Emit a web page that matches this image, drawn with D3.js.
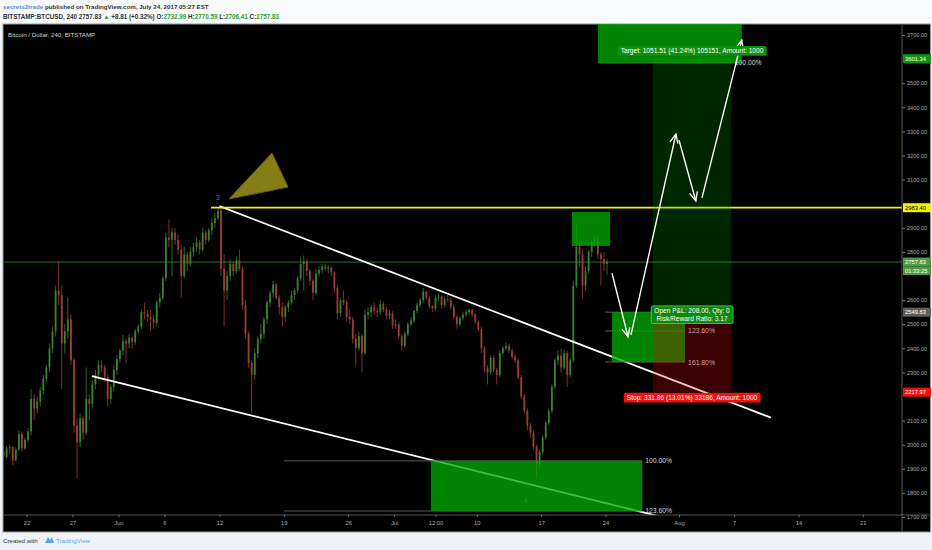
<!DOCTYPE html>
<html>
<head>
<meta charset="utf-8">
<script src="https://cdn.jsdelivr.net/npm/d3@7"></script>
<style>
  body { margin: 0; background: #f0f3f7; }
  svg { display: block; font-family: "Liberation Sans", Arial, sans-serif; }
</style>
</head>
<body>
<svg id="chart" width="932" height="550"></svg>
<script>
// 8h bars, first one opens May 19 2017 00:00, open/high/low/close
const firstBar = "2017-05-19 00:00";
const barHours = 8;
const candles = [
  [1960,1985,1945,1970],[1970,1990,1940,1950],[1950,1995,1945,1985],
  [1985,2000,1960,1990],[1990,1995,1915,1935],[1935,1990,1930,1980],
  [1980,2060,1975,2045],[2045,2055,1970,1985],[1985,2030,1980,2020],
  [2020,2070,2010,2055],[2055,2230,2040,2190],[2190,2210,2100,2150],
  [2150,2200,2130,2180],[2180,2240,2160,2225],[2225,2290,2210,2275],
  [2275,2330,2260,2320],[2320,2420,2300,2400],[2400,2490,2380,2470],
  [2470,2660,2450,2640],[2640,2760,2580,2620],[2620,2660,2230,2420],
  [2420,2500,2380,2470],[2470,2610,2440,2520],[2520,2540,2330,2350],
  [2350,2360,2050,2080],[2080,2110,1860,2010],[2010,2130,1990,2110],
  [2110,2120,2020,2050],[2050,2320,2040,2190],[2190,2210,2100,2170],
  [2170,2270,2150,2250],[2250,2310,2230,2290],[2290,2350,2270,2330],
  [2330,2350,2300,2320],[2320,2330,2260,2280],[2280,2290,2160,2190],
  [2190,2250,2170,2240],[2240,2330,2220,2310],[2310,2370,2290,2355],
  [2355,2400,2340,2390],[2390,2455,2370,2430],[2430,2440,2340,2420],
  [2420,2460,2400,2445],[2445,2450,2400,2425],[2425,2480,2415,2470],
  [2470,2500,2460,2490],[2490,2560,2480,2550],[2550,2590,2520,2545],
  [2545,2560,2510,2530],[2530,2560,2470,2520],[2520,2540,2480,2505],
  [2505,2600,2490,2590],[2590,2630,2570,2610],[2610,2700,2600,2690],
  [2690,2880,2680,2860],[2860,2935,2820,2850],[2850,2900,2700,2880],
  [2880,2900,2830,2850],[2850,2870,2790,2810],[2810,2830,2610,2700],
  [2700,2820,2690,2790],[2790,2800,2720,2750],[2750,2820,2740,2800],
  [2800,2840,2780,2820],[2820,2860,2800,2840],[2840,2850,2790,2810],
  [2810,2900,2800,2880],[2880,2890,2830,2850],[2850,2900,2840,2890],
  [2890,2940,2870,2920],[2920,2960,2900,2940],[2940,2985,2930,2970],
  [2970,2983,2700,2730],[2730,2790,2490,2640],[2640,2720,2600,2700],
  [2700,2770,2680,2750],[2750,2760,2700,2720],[2720,2780,2710,2765],
  [2765,2810,2720,2730],[2730,2740,2560,2580],[2580,2600,2440,2460],
  [2460,2470,2320,2340],[2340,2350,2130,2290],[2290,2400,2270,2380],
  [2380,2450,2360,2440],[2440,2500,2420,2460],[2460,2530,2440,2520],
  [2520,2600,2500,2590],[2590,2640,2570,2630],[2630,2680,2610,2665],
  [2665,2670,2600,2610],[2610,2620,2540,2570],[2570,2590,2490,2530],
  [2530,2580,2510,2570],[2570,2600,2550,2590],[2590,2640,2580,2620],
  [2620,2650,2600,2640],[2640,2700,2630,2690],[2690,2780,2680,2750],
  [2750,2785,2640,2760],[2760,2770,2700,2720],[2720,2730,2660,2680],
  [2680,2690,2600,2630],[2630,2730,2620,2710],[2710,2740,2700,2725],
  [2725,2750,2710,2740],[2740,2750,2720,2730],[2730,2745,2710,2735],
  [2735,2745,2700,2715],[2715,2720,2630,2650],[2650,2660,2520,2545],
  [2545,2610,2530,2600],[2600,2640,2580,2590],[2590,2600,2510,2530],
  [2530,2560,2500,2520],[2520,2530,2420,2440],[2440,2460,2330,2400],
  [2400,2470,2390,2450],[2450,2460,2300,2380],[2380,2560,2370,2540],
  [2540,2570,2520,2550],[2550,2580,2530,2570],[2570,2590,2540,2555],
  [2555,2570,2530,2550],[2550,2600,2540,2585],[2585,2595,2550,2560],
  [2560,2570,2520,2535],[2535,2560,2520,2545],[2545,2555,2480,2495],
  [2495,2520,2480,2500],[2500,2510,2440,2450],[2450,2460,2390,2410],
  [2410,2470,2400,2460],[2460,2510,2450,2500],[2500,2530,2490,2515],
  [2515,2560,2505,2555],[2555,2590,2545,2580],[2580,2610,2570,2600],
  [2600,2650,2590,2635],[2635,2640,2600,2610],[2610,2620,2565,2575],
  [2575,2580,2550,2565],[2565,2620,2555,2610],[2610,2625,2595,2615],
  [2615,2620,2565,2580],[2580,2615,2570,2605],[2605,2620,2590,2600],
  [2600,2610,2560,2570],[2570,2580,2520,2530],[2530,2540,2480,2500],
  [2500,2535,2490,2525],[2525,2550,2515,2540],[2540,2560,2530,2550],
  [2550,2565,2540,2560],[2560,2565,2530,2540],[2540,2545,2500,2510],
  [2510,2515,2470,2480],[2480,2490,2380,2400],[2400,2410,2300,2320],
  [2320,2330,2250,2300],[2300,2370,2290,2360],[2360,2370,2300,2310],
  [2310,2320,2250,2290],[2290,2390,2280,2380],[2380,2410,2370,2400],
  [2400,2425,2390,2410],[2410,2420,2380,2390],[2390,2400,2355,2365],
  [2365,2375,2340,2350],[2350,2360,2270,2280],[2280,2290,2190,2200],
  [2200,2210,2130,2140],[2140,2150,2060,2080],[2080,2090,2030,2050],
  [2050,2060,1980,1990],[1990,2000,1860,1920],[1920,1980,1900,1970],
  [1970,2040,1960,2030],[2030,2100,2020,2090],[2090,2150,2080,2140],
  [2140,2250,2130,2240],[2240,2360,2230,2350],[2350,2390,2330,2370],
  [2370,2400,2300,2320],[2320,2395,2310,2380],[2380,2390,2240,2290],
  [2290,2360,2280,2350],[2350,2680,2340,2660],[2660,2920,2650,2820],
  [2820,2850,2740,2790],[2790,2810,2610,2660],[2660,2740,2640,2720],
  [2720,2810,2710,2800],[2800,2850,2780,2840],[2840,2870,2820,2850],
  [2850,2865,2770,2790],[2790,2800,2660,2770],[2770,2800,2720,2750],
  [2750,2771,2706,2757.83]
];

const priceTicks = [1700,1800,1900,2000,2100,2200,2300,2400,2500,2600,2700,2800,2900,3000,3100,3200,3300,3400,3500,3600,3700];
const timeTickDates = ["2017-05-22 00:00","2017-05-27 00:00","2017-06-01 00:00","2017-06-06 00:00","2017-06-12 00:00","2017-06-19 00:00","2017-06-26 00:00","2017-07-01 00:00","2017-07-05 12:00","2017-07-10 00:00","2017-07-17 00:00","2017-07-24 00:00","2017-08-01 00:00","2017-08-07 00:00","2017-08-14 00:00","2017-08-21 00:00"];
const timeTickLabels = ["22","27","Jun","6","12","19","26","Jul","12:00","10","17","24","Aug","7","14","21"];

const lastPrice = 2757.83;
const resistance = { from: "2017-06-11 02:00", to: "2017-08-30 00:00", price: 2983.40 };
const upperTrend = [["2017-06-12 00:00", 2990], ["2017-08-11 00:00", 2112]];
const lowerTrend = [["2017-05-29 03:00", 2285], ["2017-07-30 03:30", 1700]];
const triangle = [["2017-06-13 01:00", 3020], ["2017-06-19 11:00", 3069], ["2017-06-17 17:00", 3210]];
const waveMarks = [["3", "2017-06-11 20:00", 3024], ["4", "2017-07-15 08:00", 1766]];

// fib boxes: from, to, top price, bottom price
const greenBoxes = [
  ["2017-07-05 00:00", "2017-07-28 00:00", 1933, 1725],
  ["2017-07-20 08:30", "2017-07-24 12:00", 2966, 2825],
  ["2017-07-24 17:00", "2017-08-01 16:00", 2550, 2343],
  ["2017-07-23 04:30", "2017-08-07 20:00", 3760, 3584]
];
// fib levels: from, to, price, label
const fibLevels = [
  ["2017-06-19 00:00", "2017-07-28 00:00", 1933, "100.00%"],
  ["2017-06-19 00:00", "2017-07-28 00:00", 1725, "123.60%"],
  ["2017-07-23 23:00", "2017-08-01 16:00", 2550, ""],
  ["2017-07-23 23:00", "2017-08-01 16:00", 2472, "123.60%"],
  ["2017-07-23 23:00", "2017-08-01 16:00", 2343, "161.80%"],
  ["2017-07-23 04:30", "2017-08-07 20:00", 3584, "100.00%"]
];

const position = { from: "2017-07-29 04:00", to: "2017-08-06 16:00", entry: 2549.83, stop: 2217.97, target: 3601.34 };
const positionLabels = {
  target: "Target: 1051.51 (41.24%) 105151, Amount: 1000",
  stop: "Stop: 331.86 (13.01%) 33186, Amount: 1000",
  open: ["Open P&L: 208.00, Qty: 0", "Risk/Reward Ratio: 3.17"]
};

const arrows = [
  [["2017-07-24 17:00", 2712], ["2017-07-26 11:00", 2447]],
  [["2017-07-26 18:30", 2456], ["2017-07-31 16:00", 3289]],
  [["2017-08-01 00:00", 3264], ["2017-08-02 20:00", 3011]],
  [["2017-08-03 12:00", 3024], ["2017-08-07 20:00", 3679]]
];

// right scale badges: price, text, background, text colour
const priceTags = [
  [3601.34, "3601.34", "#0e940e", "#fff"],
  [2983.40, "2983.40", "#f2f200", "#000"],
  [2757.83, "2757.83", "#4d9a45", "#fff"],
  [2549.83, "2549.83", "#5e5e5e", "#fff"],
  [2217.97, "2217.97", "#ee1111", "#fff"]
];
const countdown = "01:33:25";

const parse = d3.timeParse("%Y-%m-%d %H:%M");

const W = 932, H = 550;
const plotL = 3, plotR = 902, plotT = 24, plotB = 515, axisB = 532;

const x = d3.scaleTime()
  .domain([parse("2017-05-22 00:00"), parse("2017-08-21 00:00")])
  .range([26.5, 862.8]);
const y = d3.scaleLinear().domain([1700, 3700]).range([517, 35]);

const svg = d3.select("#chart");
const defs = svg.append("defs");
defs.append("clipPath").attr("id", "plotClip")
  .append("rect").attr("x", plotL).attr("y", plotT)
  .attr("width", plotR - plotL).attr("height", plotB - plotT);
defs.append("marker").attr("id", "head")
  .attr("viewBox", "-1 -6 12 12").attr("refX", 9).attr("refY", 0)
  .attr("markerWidth", 12).attr("markerHeight", 12)
  .attr("markerUnits", "userSpaceOnUse").attr("orient", "auto")
  .append("path").attr("d", "M0,-4L9,0L0,4")
  .attr("fill", "none").attr("stroke", "#fff").attr("stroke-width", 1.3);

// page, header band and black chart panel
svg.append("rect").attr("width", W).attr("height", H).attr("fill", "#eff2f6");
svg.append("rect").attr("width", W).attr("height", plotT).attr("fill", "#f8f9fb");
svg.append("rect").attr("x", plotL).attr("y", plotT)
  .attr("width", W - plotL - 1.5).attr("height", axisB - plotT)
  .attr("fill", "#000").attr("stroke", "#9a9a9a").attr("stroke-width", 1);

// header texts
const head1 = svg.append("text").attr("x", 3).attr("y", 9)
  .attr("font-size", 6.2).attr("font-weight", "bold").attr("fill", "#333");
head1.append("tspan").attr("fill", "#4a92d8").text("secrets2trade");
head1.append("tspan").text(" published on TradingView.com, July 24, 2017 05:27 EST");

const head2 = svg.append("text").attr("x", 3).attr("y", 19)
  .attr("font-size", 6.3).attr("font-weight", "bold").attr("fill", "#333");
const up = "#2e9e2e";
[["BITSTAMP:BTCUSD, 240  2757.83 ", null], ["▲", up], [" +8.81 (+0.32%) O:", null], ["2732.99", up],
 [" H:", null], ["2770.59", up], [" L:", null], ["2706.41", up], [" C:", null], ["2757.83", up]]
  .forEach(([t, c]) => { const s = head2.append("tspan").text(t); if (c) s.attr("fill", c); });

const plot = svg.append("g").attr("clip-path", "url(#plotClip)");

plot.append("text").attr("x", 8).attr("y", 36.5)
  .attr("font-size", 6.2).attr("fill", "#cfcfcf")
  .text("Bitcoin / Dollar, 240, BITSTAMP");

// last price line
plot.append("line")
  .attr("x1", plotL).attr("x2", plotR)
  .attr("y1", y(lastPrice)).attr("y2", y(lastPrice))
  .attr("stroke", "#2f6f2a").attr("stroke-width", 1);

// candles
const barTime = i => new Date(parse(firstBar).getTime() + (i + 0.5) * barHours * 3600e3);
const upCol = "#37832f", downCol = "#9e3d36";
const cg = plot.append("g");
cg.selectAll("line").data(candles).join("line")
  .attr("x1", (d, i) => x(barTime(i))).attr("x2", (d, i) => x(barTime(i)))
  .attr("y1", d => y(d[1])).attr("y2", d => y(d[2]))
  .attr("stroke", d => d[3] >= d[0] ? upCol : downCol).attr("stroke-width", 0.8);
cg.selectAll("rect").data(candles).join("rect")
  .attr("x", (d, i) => x(barTime(i)) - 0.9).attr("width", 1.8)
  .attr("y", d => y(Math.max(d[0], d[3])))
  .attr("height", d => Math.max(0.7, Math.abs(y(d[0]) - y(d[3]))))
  .attr("fill", d => d[3] >= d[0] ? upCol : downCol);

// trend lines and resistance
const pt = p => [x(parse(p[0])), y(p[1])];
[upperTrend, lowerTrend].forEach(l => {
  plot.append("line")
    .attr("x1", pt(l[0])[0]).attr("y1", pt(l[0])[1])
    .attr("x2", pt(l[1])[0]).attr("y2", pt(l[1])[1])
    .attr("stroke", "#fff").attr("stroke-width", 1.8);
});
plot.append("line")
  .attr("x1", x(parse(resistance.from))).attr("x2", x(parse(resistance.to)))
  .attr("y1", y(resistance.price)).attr("y2", y(resistance.price))
  .attr("stroke", "#f4f400").attr("stroke-width", 1.8);

plot.append("polygon")
  .attr("points", triangle.map(p => pt(p).join(",")).join(" "))
  .attr("fill", "#857e16").attr("stroke", "#6a6410").attr("stroke-width", 1);

plot.selectAll("text.wave").data(waveMarks).join("text").attr("class", "wave")
  .attr("x", d => x(parse(d[1]))).attr("y", d => y(d[2]) + 2)
  .attr("text-anchor", "middle").attr("font-size", 6.5).attr("fill", "#3f73d8")
  .text(d => d[0]);

// fib level lines
plot.selectAll("line.fib").data(fibLevels).join("line").attr("class", "fib")
  .attr("x1", d => x(parse(d[0]))).attr("x2", d => x(parse(d[1])))
  .attr("y1", d => y(d[2])).attr("y2", d => y(d[2]))
  .attr("stroke", "#5a5a5a").attr("stroke-width", 1);

// translucent green boxes
plot.selectAll("rect.box").data(greenBoxes).join("rect").attr("class", "box")
  .attr("x", d => x(parse(d[0]))).attr("width", d => x(parse(d[1])) - x(parse(d[0])))
  .attr("y", d => y(d[2])).attr("height", d => y(d[3]) - y(d[2]))
  .attr("fill", "rgba(0,172,0,0.76)");

plot.selectAll("text.fib").data(fibLevels.filter(d => d[3])).join("text").attr("class", "fib")
  .attr("x", d => x(parse(d[1])) + (d[2] > 3500 ? -7 : 3)).attr("y", d => y(d[2]) + 2.5)
  .attr("font-size", 6.8).attr("fill", "#d6d6d6").text(d => d[3]);

// long position zones
const px0 = x(parse(position.from)), px1 = x(parse(position.to));
plot.append("rect").attr("x", px0).attr("width", px1 - px0)
  .attr("y", y(position.target)).attr("height", y(position.entry) - y(position.target))
  .attr("fill", "rgba(0,190,0,0.2)");
plot.append("rect").attr("x", px0).attr("width", px1 - px0)
  .attr("y", y(position.entry)).attr("height", y(position.stop) - y(position.entry))
  .attr("fill", "rgba(255,0,0,0.24)");

// hand drawn path arrows
plot.selectAll("line.arrow").data(arrows).join("line").attr("class", "arrow")
  .attr("x1", d => pt(d[0])[0]).attr("y1", d => pt(d[0])[1])
  .attr("x2", d => pt(d[1])[0]).attr("y2", d => pt(d[1])[1])
  .attr("stroke", "#fff").attr("stroke-width", 1.4).attr("marker-end", "url(#head)");

// position labels
const pcx = (px0 + px1) / 2;
function badge(lines, cy, fill, stroke) {
  const g = svg.append("g");
  const t = g.append("text").attr("text-anchor", "middle").attr("font-size", 6.6).attr("fill", "#fff");
  lines.forEach((s, i) => t.append("tspan").attr("x", pcx)
    .attr("y", cy + 2.2 + (i - (lines.length - 1) / 2) * 7.6).text(s));
  const b = t.node().getBBox();
  g.insert("rect", "text").attr("x", b.x - 3).attr("y", cy - lines.length * 3.9 - 1)
    .attr("width", b.width + 6).attr("height", lines.length * 7.8 + 2)
    .attr("rx", 1.5).attr("fill", fill).attr("stroke", stroke || "none").attr("stroke-width", 0.8);
}
badge([positionLabels.target], y(position.target) - 8, "#0f8f0f");
badge(positionLabels.open, y(position.entry) + 2.5, "#0d8a0d", "#66cc66");
badge([positionLabels.stop], y(position.stop) + 5.5, "#ee1111");

// price scale, labels hidden where a badge covers them
const allTags = priceTags.map(d => y(d[0])).concat([y(lastPrice) + 8.75]);
const visibleTicks = priceTicks.filter(v => allTags.every(t => Math.abs(y(v) - t) > 8));
const yAxis = svg.append("g").attr("transform", `translate(${plotR},0)`)
  .call(d3.axisRight(y).tickValues(visibleTicks).tickFormat(d3.format(".2f")).tickSize(3).tickPadding(2));
yAxis.select(".domain").remove();
yAxis.selectAll(".tick line").attr("stroke", "#777");
yAxis.selectAll(".tick text").attr("fill", "#aaa").attr("font-size", 5.6)
  .attr("font-family", "Liberation Sans, Arial, sans-serif");
svg.append("line").attr("x1", plotR).attr("x2", plotR).attr("y1", plotT).attr("y2", axisB)
  .attr("stroke", "#555");

priceTags.forEach(([v, s, bg, fg]) => {
  svg.append("rect").attr("x", plotR + 1).attr("y", y(v) - 4.5).attr("width", 28).attr("height", 9).attr("fill", bg);
  svg.append("text").attr("x", plotR + 3).attr("y", y(v) + 2).attr("font-size", 5.8).attr("fill", fg).text(s);
});
svg.append("rect").attr("x", plotR + 1).attr("y", y(lastPrice) + 4.5).attr("width", 28).attr("height", 8.5).attr("fill", "#4d9a45");
svg.append("text").attr("x", plotR + 3).attr("y", y(lastPrice) + 11).attr("font-size", 5.8).attr("fill", "#fff").text(countdown);

// time scale
const xAxis = svg.append("g").attr("transform", `translate(0,${plotB})`)
  .call(d3.axisBottom(x).tickValues(timeTickDates.map(parse))
    .tickFormat((d, i) => timeTickLabels[i]).tickSize(2).tickPadding(4));
xAxis.select(".domain").remove();
xAxis.selectAll(".tick line").attr("stroke", "#777");
xAxis.selectAll(".tick text").attr("fill", "#aaa").attr("font-size", 5.8)
  .attr("font-family", "Liberation Sans, Arial, sans-serif");
svg.append("line").attr("x1", plotL).attr("x2", W - 1.5).attr("y1", plotB).attr("y2", plotB)
  .attr("stroke", "#555");

// footer
svg.append("text").attr("x", 3).attr("y", 543).attr("font-size", 6.2).attr("fill", "#333")
  .text("Created with");
const logo = svg.append("g").attr("transform", "translate(45,537)");
logo.append("path").attr("d", "M0,6 L3,0 L5,3 L7,0 L9,6 Z").attr("fill", "#5aa6df");
svg.append("text").attr("x", 56).attr("y", 543).attr("font-size", 6.2).attr("fill", "#5aa6df")
  .text("TradingView");
</script>
</body>
</html>
